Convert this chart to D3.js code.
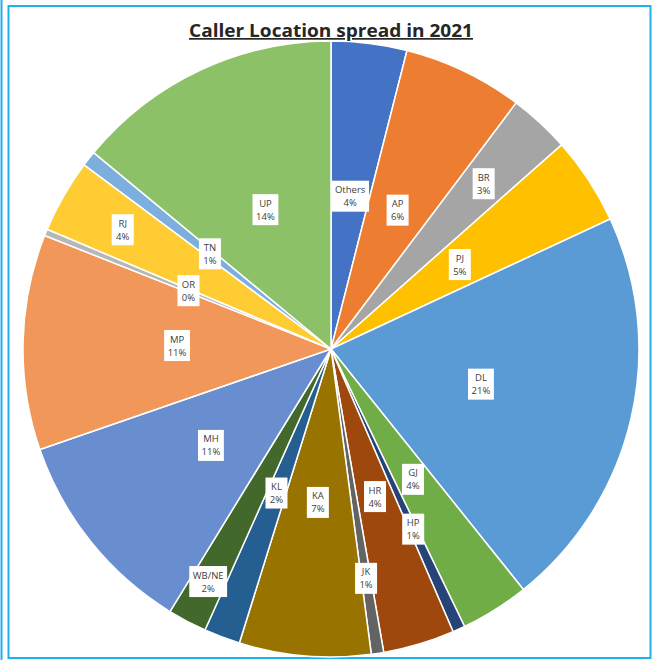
<!DOCTYPE html>
<html>
<head>
<meta charset="utf-8">
<script src="https://cdn.jsdelivr.net/npm/d3@7"></script>
<style>
  html, body { margin: 0; padding: 0; background: #fff; }
  svg { display: block; }
</style>
</head>
<body>
<svg id="chart" width="653" height="660"></svg>
<script>
const title = "Caller Location spread in 2021";
const categories = ["Others","AP","BR","PJ","DL","GJ","HP","HR","JK","KA","KL","WB/NE","MH","MP","OR","RJ","TN","UP"];
const values = [3.97,6.3,3.2,4.6,21.2,3.6,0.65,3.75,0.65,6.9,1.9,2.05,10.95,11.3,0.35,3.85,0.8,14.0];
const colors = ["#4472C4","#ED7D31","#A5A5A5","#FFC000","#5B9BD5","#70AD47","#264478","#9E480E","#636363","#997300","#255E91","#43682B","#698ED0","#F1975A","#B7B7B7","#FFCD33","#7CAFDD","#8CC168"];

// layout: label distance from centre (default and overrides for crowded slices)
const labelRadiusDefault = 154;
const labelRadiusOverride = {"BR": 225, "RJ": 240, "JK": 232, "HP": 198, "WB/NE": 263};

const svg = d3.select("#chart");
const cx = 331, cy = 349, R = 308;

// frame
svg.append("line").attr("x1",1.5).attr("x2",1.5).attr("y1",0).attr("y2",660)
  .attr("stroke","#1FB1EE").attr("stroke-width",2);
svg.append("rect").attr("x",8.5).attr("y",6).attr("width",642).attr("height",652)
  .attr("fill","none").attr("stroke","#1FB1EE").attr("stroke-width",2);

const data = categories.map((c,i)=>({cat:c, value:values[i], color:colors[i]}));
const total = d3.sum(values);
const pie = d3.pie().sort(null).value(d=>d.value);
const arcs = pie(data);
const arc = d3.arc().innerRadius(0).outerRadius(R);

const g = svg.append("g").attr("transform",`translate(${cx},${cy})`);
g.selectAll("path").data(arcs).join("path")
  .attr("d", arc)
  .attr("fill", d=>d.data.color)
  .attr("stroke","#fff")
  .attr("stroke-width",1.5)
  .attr("stroke-linejoin","round");

// labels
const lg = g.append("g");
arcs.forEach(d=>{
  const a = (d.startAngle + d.endAngle)/2;
  const r = labelRadiusOverride[d.data.cat] ?? labelRadiusDefault;
  const x = r*Math.sin(a), y = -r*Math.cos(a);
  const pct = Math.round(d.data.value/total*100) + "%";
  const grp = lg.append("g").attr("transform",`translate(${x},${y})`);
  const rect = grp.append("rect").attr("fill","#fff");
  const t = grp.append("text")
    .attr("text-anchor","middle")
    .attr("font-family","'Open Sans', 'Noto Sans', sans-serif")
    .attr("font-size","9.5px")
    .attr("fill","#404040");
  t.append("tspan").attr("x",0).attr("y",-3).text(d.data.cat);
  t.append("tspan").attr("x",0).attr("y",10).text(pct);
  const bb = t.node().getBBox();
  const w = Math.max(bb.width + 7, 22), h = 31;
  rect.attr("x",-w/2).attr("y",-h/2).attr("width",w).attr("height",h);
});

// title
svg.append("text")
  .attr("x", cx).attr("y", 37)
  .attr("text-anchor","middle")
  .attr("font-family","'Open Sans', 'Liberation Sans', sans-serif")
  .attr("font-weight","bold")
  .attr("font-size","17px")
  .attr("fill","#262626")
  .attr("text-decoration","underline")
  .attr("textLength",284)
  .attr("lengthAdjust","spacingAndGlyphs")
  .text(title);
</script>
</body>
</html>
